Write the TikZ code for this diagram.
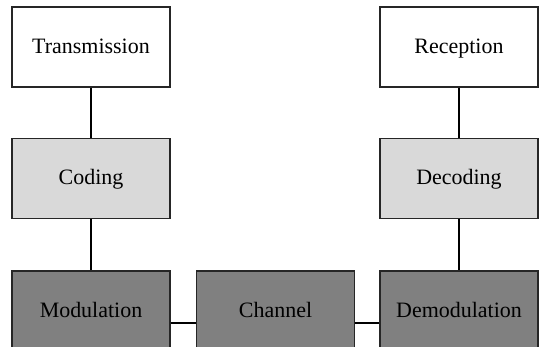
\documentclass[tikz,border=0pt]{standalone}
\usepackage{fontspec}
\setmainfont{Liberation Serif}
\usepackage{tikz}
\usetikzlibrary{calc}

\begin{document}
\begin{tikzpicture}[x=0.02cm,y=0.02cm,
        block/.style={draw=black!85,line width=0.6pt,minimum width=3.16cm,
            minimum height=1.6cm,inner sep=0pt,text height=0.72em,text depth=0pt,
            font=\fontsize{12.5}{15}\selectfont},
        top/.style={block,fill=white},
        mid/.style={block,fill=black!15},
        low/.style={block,fill=black!50}]
        \useasboundingbox (0,0) rectangle (541,347);
        \clip (0,0) rectangle (541,347);
        \node[top] (trans) at (91,300) {Transmission};
        \node[top] (recep) at (459,300) {Reception};
        \node[mid] (cod) at (91,168.5) {Coding};
        \node[mid] (decod) at (459,168.5) {Decoding};
        \node[low] (mod) at (91,36) {Modulation};
        \node[low] (chan) at (275.5,36) {Channel};
        \node[low] (demod) at (459,36) {Demodulation};
        \draw[line width=0.6pt] (trans) -- (cod);
        \draw[line width=0.6pt] (cod) -- (mod);
        \draw[line width=0.6pt] (recep) -- (decod);
        \draw[line width=0.6pt] (decod) -- (demod);
        \draw[line width=0.6pt] ([yshift=-0.24cm]mod.east) -- ([yshift=-0.24cm]chan.west);
        \draw[line width=0.6pt] ([yshift=-0.24cm]chan.east) -- ([yshift=-0.24cm]demod.west);
    \end{tikzpicture}
\end{document}
